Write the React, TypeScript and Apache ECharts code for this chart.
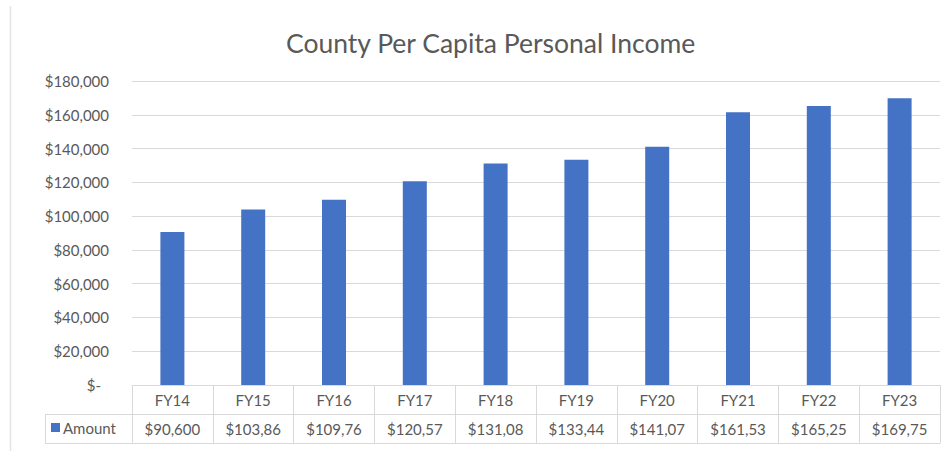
import React, { useEffect, useRef } from "react";
import * as echarts from "echarts";

// ---- Data ----
const categories = ["FY14", "FY15", "FY16", "FY17", "FY18", "FY19", "FY20", "FY21", "FY22", "FY23"];
const amounts = [90600, 103860, 109760, 120570, 131080, 133440, 141070, 161530, 165250, 169750];
const seriesName = "Amount";
const yMax = 180000;
const yInterval = 20000;

// ---- Layout / style ----
const W = 951;
const H = 451;
const GRID_LEFT = 132;
const GRID_RIGHT = 11;
const GRID_TOP = 81;
const GRID_BOTTOM = 66;
const ROW_H = 29;
const TABLE_LEFT = 45;
const GRAY_LINE = "#d9d9d9";
const TEXT = "#595959";
const BAR = "#4472C4";
const FONT = "Lato, 'Open Sans', sans-serif";
const FS = 15;

const money = (v: number) => "$" + v.toLocaleString("en-US");
// Excel's data table cells are too narrow, so the text is clipped at 7 characters
const cellText = (v: number) => money(v).slice(0, 7);

export default function App() {
  const ref = useRef<HTMLDivElement>(null);
  useEffect(() => {
    if (!ref.current) return;
    const chart = echarts.init(ref.current, undefined, { renderer: "svg" });
    const tableTop = H - GRID_BOTTOM;
    const gridRightX = W - GRID_RIGHT;
    const lineStyle = { stroke: GRAY_LINE, lineWidth: 1 };
    chart.setOption({
      animation: false,
      backgroundColor: "#ffffff",
      title: {
        text: "County Per Capita Personal Income",
        left: 281,
        top: 24,
        textStyle: { fontFamily: FONT, fontSize: 26.5, fontWeight: "normal", color: TEXT },
      },
      legend: {
        data: [seriesName],
        left: TABLE_LEFT + 6,
        top: tableTop + ROW_H + 6,
        padding: 0,
        icon: "rect",
        itemWidth: 9,
        itemHeight: 9,
        itemGap: 4,
        selectedMode: false,
        textStyle: { fontFamily: FONT, fontSize: FS, color: TEXT, padding: [0, 0, 0, -2] },
      },
      grid: { left: GRID_LEFT, right: GRID_RIGHT, top: GRID_TOP, bottom: GRID_BOTTOM, containLabel: false },
      xAxis: [
        {
          type: "category",
          data: categories,
          position: "bottom",
          axisLine: { show: true, lineStyle: { color: GRAY_LINE, width: 1 } },
          axisTick: { show: true, length: ROW_H * 2, interval: 0, alignWithLabel: false, lineStyle: { color: GRAY_LINE } },
          axisLabel: { interval: 0, margin: 7, color: TEXT, fontFamily: FONT, fontSize: FS },
          splitLine: { show: false },
        },
        {
          type: "category",
          data: categories,
          position: "bottom",
          offset: ROW_H,
          axisLine: { show: true, lineStyle: { color: GRAY_LINE, width: 1 } },
          axisTick: { show: false },
          axisLabel: {
            interval: 0,
            margin: 7,
            color: TEXT,
            fontFamily: FONT,
            fontSize: FS,
            formatter: (_v: string, i: number) => cellText(amounts[i]),
          },
        },
        {
          type: "category",
          data: categories,
          position: "bottom",
          offset: ROW_H * 2,
          axisLine: { show: true, lineStyle: { color: GRAY_LINE, width: 1 } },
          axisTick: { show: false },
          axisLabel: { show: false },
        },
      ],
      yAxis: {
        type: "value",
        min: 0,
        max: yMax,
        interval: yInterval,
        axisLine: { show: false },
        axisTick: { show: false },
        splitLine: { show: true, lineStyle: { color: GRAY_LINE, width: 1 } },
        axisLabel: {
          margin: 23,
          color: TEXT,
          fontFamily: FONT,
          fontSize: FS,
          formatter: (v: number) => (v === 0 ? "{z|$-}" : money(v)),
          rich: { z: { color: TEXT, fontFamily: FONT, fontSize: FS, padding: [0, 8, 0, 0] } },
        },
      },
      series: [
        {
          name: seriesName,
          type: "bar",
          xAxisIndex: 0,
          data: amounts,
          barWidth: 24,
          itemStyle: { color: BAR },
        },
      ],
      graphic: [
        // chart area left border
        { type: "line", shape: { x1: 10.5, y1: 6, x2: 10.5, y2: H }, style: { stroke: "#e3e3e3", lineWidth: 1.5 }, silent: true },
        // legend-key cell of the data table
        { type: "line", shape: { x1: TABLE_LEFT, y1: tableTop + ROW_H + 0.5, x2: GRID_LEFT, y2: tableTop + ROW_H + 0.5 }, style: lineStyle, silent: true },
        { type: "line", shape: { x1: TABLE_LEFT, y1: tableTop + ROW_H * 2 + 0.5, x2: GRID_LEFT, y2: tableTop + ROW_H * 2 + 0.5 }, style: lineStyle, silent: true },
        { type: "line", shape: { x1: TABLE_LEFT + 0.5, y1: tableTop + ROW_H, x2: TABLE_LEFT + 0.5, y2: tableTop + ROW_H * 2 }, style: lineStyle, silent: true },
        { type: "line", shape: { x1: GRID_LEFT + 0.5, y1: tableTop, x2: GRID_LEFT + 0.5, y2: tableTop + ROW_H * 2 }, style: lineStyle, silent: true },
        { type: "line", shape: { x1: gridRightX + 0.5, y1: tableTop, x2: gridRightX + 0.5, y2: tableTop + ROW_H * 2 }, style: lineStyle, silent: true },
      ],
    });
    return () => chart.dispose();
  }, []);
  return (
    <div
      ref={ref}
      style={{ position: "absolute", left: 0, top: 0, width: W, height: H, background: "#fff" }}
    />
  );
}
